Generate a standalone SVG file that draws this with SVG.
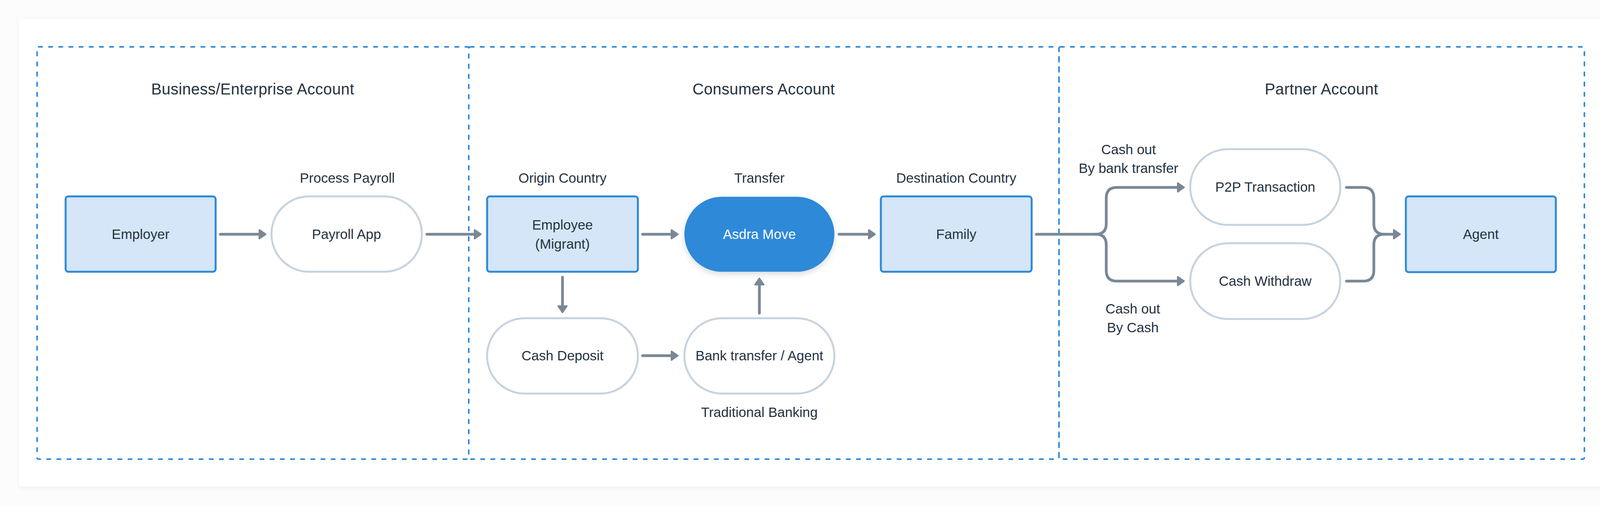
<svg xmlns="http://www.w3.org/2000/svg" width="4176" height="1296" viewBox="0 0 4176 1296">
  <defs>
    <filter id="cardShadow" x="-5%" y="-5%" width="110%" height="115%">
      <feDropShadow dx="0" dy="4" stdDeviation="6" flood-color="#000" flood-opacity="0.05"/>
    </filter>
    <filter id="nodeShadow" x="-20%" y="-20%" width="140%" height="150%">
      <feDropShadow dx="0" dy="6" stdDeviation="7" flood-color="#1d3550" flood-opacity="0.18"/>
    </filter>
    <marker id="arrow" markerUnits="userSpaceOnUse" markerWidth="26" markerHeight="32" viewBox="-2 -16 26 32" refX="0" refY="0" orient="auto">
      <path d="M0,-11 L16,0 L0,11 Z" fill="#7a8896" stroke="#7a8896" stroke-width="4" stroke-linejoin="round"/>
    </marker>
  </defs>
  <style>
    .zone { fill: none; stroke: #2e89d9; stroke-width: 4; stroke-dasharray: 9 17; stroke-linecap: round; }
    .rectNode { fill: #d4e6f7; stroke: #2e89d9; stroke-width: 5; }
    .pill { fill: #ffffff; stroke: #c6d3de; stroke-width: 5; }
    .pillMain { fill: #2e89d9; }
    .conn { fill: none; stroke: #7a8896; stroke-width: 7; stroke-linecap: round; stroke-linejoin: round; marker-end: url(#arrow); }
    .plain { fill: none; stroke: #7a8896; stroke-width: 7; stroke-linecap: round; stroke-linejoin: round; }
    text { font-family: "Liberation Sans", Arial, sans-serif; fill: #253341; text-anchor: middle; }
    .title { font-size: 40px; letter-spacing: 0.4px; }
    .lbl { font-size: 35px; }
    .white { fill: #ffffff; }
  </style>

  <rect x="0" y="0" width="4176" height="1296" fill="#fcfcfc"/>
  <rect x="48" y="48" width="4080" height="1198" rx="6" fill="#ffffff" filter="url(#cardShadow)"/>

  <g id="zones">
    <rect class="zone" x="95" y="120" width="1105" height="1056" rx="4"/>
    <rect class="zone" x="1200" y="120" width="1511" height="1056" rx="4"/>
    <rect class="zone" x="2711" y="120" width="1345" height="1056" rx="4"/>
    <text class="title" x="647" y="242">Business/Enterprise Account</text>
    <text class="title" x="1955" y="242">Consumers Account</text>
    <text class="title" x="3383" y="242">Partner Account</text>
  </g>

  <g id="labels">
    <text class="lbl" x="889" y="468">Process Payroll</text>
    <text class="lbl" x="1440" y="468">Origin Country</text>
    <text class="lbl" x="1944" y="468">Transfer</text>
    <text class="lbl" x="2448" y="468">Destination Country</text>
    <text class="lbl" x="1944" y="1068">Traditional Banking</text>
    <text class="lbl" x="2889" y="395">Cash out</text>
    <text class="lbl" x="2889" y="443">By bank transfer</text>
    <text class="lbl" x="2900" y="803">Cash out</text>
    <text class="lbl" x="2900" y="851">By Cash</text>
  </g>

  <g id="connectors">
    <path class="conn" d="M564,600 H664"/>
    <path class="conn" d="M1093,600 H1215"/>
    <path class="conn" d="M1645,600 H1719"/>
    <path class="conn" d="M2148,600 H2224"/>
    <path class="conn" d="M1440,710 V784"/>
    <path class="conn" d="M1645,911 H1719"/>
    <path class="conn" d="M1944,802 V729"/>
    <path class="conn" d="M2653,600 H2805 Q2832,600 2832,573 V507 Q2832,480 2859,480 H3015"/>
    <path class="conn" d="M2805,600 Q2832,600 2832,627 V693 Q2832,720 2859,720 H3015"/>
    <path class="conn" d="M3447,480 H3490 Q3517,480 3517,507 V573 Q3517,600 3544,600 H3568"/>
    <path class="plain" d="M3447,720 H3490 Q3517,720 3517,693 V627 Q3517,600 3544,600"/>
  </g>

  <g id="employer">
    <rect class="rectNode" x="168" y="503" width="384" height="193" rx="7"/>
    <text class="lbl" x="360" y="612">Employer</text>
  </g>
  <g id="payroll-app">
    <rect class="pill" x="695" y="503" width="385" height="193" rx="96"/>
    <text class="lbl" x="887" y="612">Payroll App</text>
  </g>
  <g id="employee">
    <rect class="rectNode" x="1247" y="503" width="386" height="193" rx="7"/>
    <text class="lbl" x="1440" y="588">Employee</text>
    <text class="lbl" x="1440" y="637">(Migrant)</text>
  </g>
  <g id="asdra-move">
    <rect class="pillMain" x="1752" y="504" width="384" height="192" rx="96" filter="url(#nodeShadow)"/>
    <text class="lbl white" x="1944" y="612">Asdra Move</text>
  </g>
  <g id="family">
    <rect class="rectNode" x="2255" y="503" width="386" height="193" rx="7"/>
    <text class="lbl" x="2448" y="612">Family</text>
  </g>
  <g id="cash-deposit">
    <rect class="pill" x="1247" y="815" width="386" height="193" rx="96"/>
    <text class="lbl" x="1440" y="923">Cash Deposit</text>
  </g>
  <g id="bank-transfer-agent">
    <rect class="pill" x="1752" y="815" width="384" height="193" rx="96"/>
    <text class="lbl" x="1944" y="923">Bank transfer / Agent</text>
  </g>
  <g id="p2p-transaction">
    <rect class="pill" x="3047" y="382" width="384" height="194" rx="96"/>
    <text class="lbl" x="3239" y="491">P2P Transaction</text>
  </g>
  <g id="cash-withdraw">
    <rect class="pill" x="3047" y="623" width="384" height="194" rx="96"/>
    <text class="lbl" x="3239" y="732">Cash Withdraw</text>
  </g>
  <g id="agent">
    <rect class="rectNode" x="3599" y="503" width="384" height="194" rx="7"/>
    <text class="lbl" x="3791" y="612">Agent</text>
  </g>
</svg>
